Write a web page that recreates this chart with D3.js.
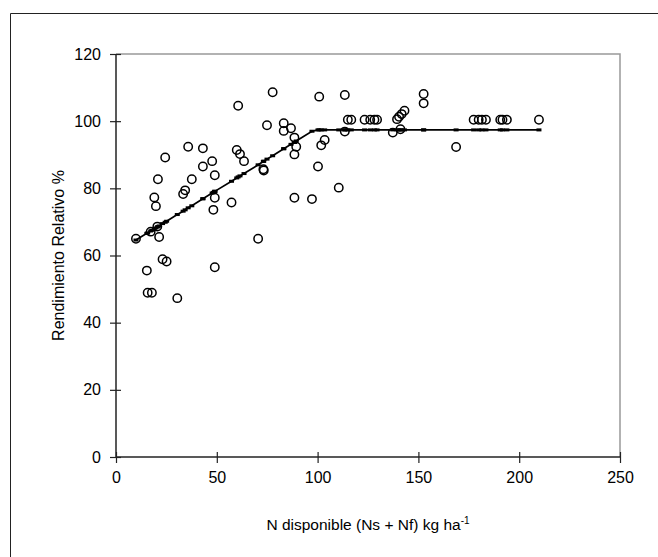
<!DOCTYPE html>
<meta charset="utf-8">
<style>
    body { margin: 0; background: #fff; }
    text { font-family: "Liberation Sans", Arial, sans-serif; fill: #000; }
    .axis path { display: none; }
    .axis line { stroke: #222; stroke-width: 1.2; }
    .axis text { font-size: 16px; }
</style>
<body>
<script src="https://cdn.jsdelivr.net/npm/d3@7"></script>
<script>

    // N disponible (kg/ha) and rendimiento relativo (%)
    var nDisp = [9.9, 15.3, 15.7, 17.2, 17.8, 19.0, 19.8, 20.5, 20.8, 21.4,
                 23.1, 24.4, 25.1, 30.4, 33.3, 34.3, 35.8, 37.6, 43.1, 43.1,
                 47.7, 48.3, 49.0, 49.0, 49.0, 57.3, 59.9, 60.6, 61.5, 63.5,
                 70.5, 73.1, 73.3, 74.9, 77.7, 83.2, 83.2, 86.8, 88.5, 89.4,
                 88.5, 88.5, 97.2, 100.2, 100.8, 101.8, 103.5, 110.5, 113.5, 113.5,
                 115.0, 116.7, 123.3, 126.1, 128.2, 129.5, 137.3, 139.4, 140.4, 141.7,
                 143.1, 141.1, 152.6, 152.6, 168.7, 177.4, 179.9, 181.5, 183.5, 190.6,
                 191.7, 193.9, 209.8];

    var rendRel = [65.0, 55.5, 48.9, 67.1, 48.9, 77.3, 74.7, 68.6, 82.7, 65.5,
                   58.9, 89.2, 58.2, 47.3, 78.3, 79.4, 92.4, 82.7, 91.9, 86.5,
                   88.1, 73.6, 83.9, 77.2, 56.5, 75.8, 91.4, 104.6, 90.2, 88.1,
                   65.0, 85.7, 85.3, 98.8, 108.6, 99.4, 97.1, 97.9, 95.1, 92.4,
                   90.1, 77.2, 76.8, 86.5, 107.3, 92.8, 94.4, 80.2, 107.8, 96.9,
                   100.4, 100.4, 100.4, 100.4, 100.4, 100.4, 96.6, 100.6, 101.3, 102.1,
                   103.1, 97.6, 108.1, 105.3, 92.3, 100.4, 100.4, 100.4, 100.4, 100.4,
                   100.4, 100.4, 100.4];

    // fitted (linear-plateau) value drawn at each point
    var rendAjust = [64.6, 66.6, 66.7, 67.3, 67.5, 67.9, 68.2, 68.5, 68.6, 68.8,
                     69.5, 69.9, 70.2, 72.2, 73.2, 73.6, 74.2, 74.8, 76.9, 76.9,
                     78.6, 78.8, 79.1, 79.1, 79.1, 82.1, 83.1, 83.4, 83.7, 84.4,
                     87.0, 88.0, 88.1, 88.7, 89.7, 91.8, 91.8, 93.1, 93.7, 94.1,
                     93.7, 93.7, 97.0, 97.4, 97.4, 97.4, 97.4, 97.4, 97.4, 97.4,
                     97.4, 97.4, 97.4, 97.4, 97.4, 97.4, 97.4, 97.4, 97.4, 97.4,
                     97.4, 97.4, 97.4, 97.4, 97.4, 97.4, 97.4, 97.4, 97.4, 97.4,
                     97.4, 97.4, 97.4];

    var xTicks = [0, 50, 100, 150, 200, 250];
    var yTicks = [0, 20, 40, 60, 80, 100, 120];

    var width = 658, height = 557;

    var x = d3.scaleLinear().domain([0, 250]).range([116, 620]);
    var y = d3.scaleLinear().domain([0, 120]).range([457, 54]);

    var svg = d3.select("body").append("svg")
            .attr("width", width)
            .attr("height", height);

    // outer chart frame (cropped at right/bottom)
    svg.append("path")
            .attr("d", "M10.5," + height + "V13.5H" + width)
            .attr("fill", "none")
            .attr("stroke", "#222")
            .attr("stroke-width", 1);

    // plot area border top / right
    svg.append("path")
            .attr("d", "M" + x(0) + "," + y(120) + "H" + x(250) + "V" + y(0))
            .attr("fill", "none")
            .attr("stroke", "#999")
            .attr("stroke-width", 1.5);

    var xAxis = d3.axisBottom(x).tickValues(xTicks).tickSize(6).tickPadding(9);
    var yAxis = d3.axisLeft(y).tickValues(yTicks).tickSize(6).tickPadding(9);

    var gx = svg.append("g")
            .attr("class", "x axis")
            .attr("transform", "translate(0," + y(0) + ")")
            .call(xAxis);
    gx.selectAll(".tick line").attr("y1", -5).attr("y2", 6);

    var gy = svg.append("g")
            .attr("class", "y axis")
            .attr("transform", "translate(" + x(0) + ",0)")
            .call(yAxis);
    gy.selectAll(".tick line").attr("x1", -6).attr("x2", 5);

    svg.append("line")
            .attr("x1", x(0)).attr("x2", x(250))
            .attr("y1", y(0)).attr("y2", y(0))
            .attr("stroke", "#222").attr("stroke-width", 1.5);
    svg.append("line")
            .attr("x1", x(0)).attr("x2", x(0))
            .attr("y1", y(0)).attr("y2", y(120))
            .attr("stroke", "#222").attr("stroke-width", 1.5);

    // fitted line
    var fit = nDisp.map(function(d, i) { return [d, rendAjust[i]]; })
            .sort(function(a, b) { return a[0] - b[0]; });

    svg.append("path")
            .datum(fit)
            .attr("fill", "none")
            .attr("stroke", "#000")
            .attr("stroke-width", 1.7)
            .attr("d", d3.line()
                .x(function(d) { return x(d[0]); })
                .y(function(d) { return y(d[1]); }));

    svg.append("g").selectAll("rect")
            .data(fit)
        .enter().append("rect")
            .attr("x", function(d) { return x(d[0]) - 2.5; })
            .attr("y", function(d) { return y(d[1]) - 1.5; })
            .attr("width", 5)
            .attr("height", 3)
            .attr("fill", "#000");

    // observed points
    svg.append("g").selectAll("circle")
            .data(nDisp)
        .enter().append("circle")
            .attr("cx", function(d) { return x(d); })
            .attr("cy", function(d, i) { return y(rendRel[i]); })
            .attr("r", 4.2)
            .attr("fill", "none")
            .attr("stroke", "#000")
            .attr("stroke-width", 1.5);

    // axis titles
    var xt = svg.append("text")
            .attr("x", 368)
            .attr("y", 530)
            .attr("text-anchor", "middle")
            .style("font-size", "15.5px");
    xt.append("tspan").text("N disponible (Ns + Nf) kg ha");
    xt.append("tspan").attr("dy", -6).style("font-size", "10px").text("-1");

    svg.append("text")
            .attr("transform", "translate(64," + y(60) + ") rotate(-90)")
            .attr("text-anchor", "middle")
            .style("font-size", "16px")
            .text("Rendimiento Relativo %");

</script>
</body>
